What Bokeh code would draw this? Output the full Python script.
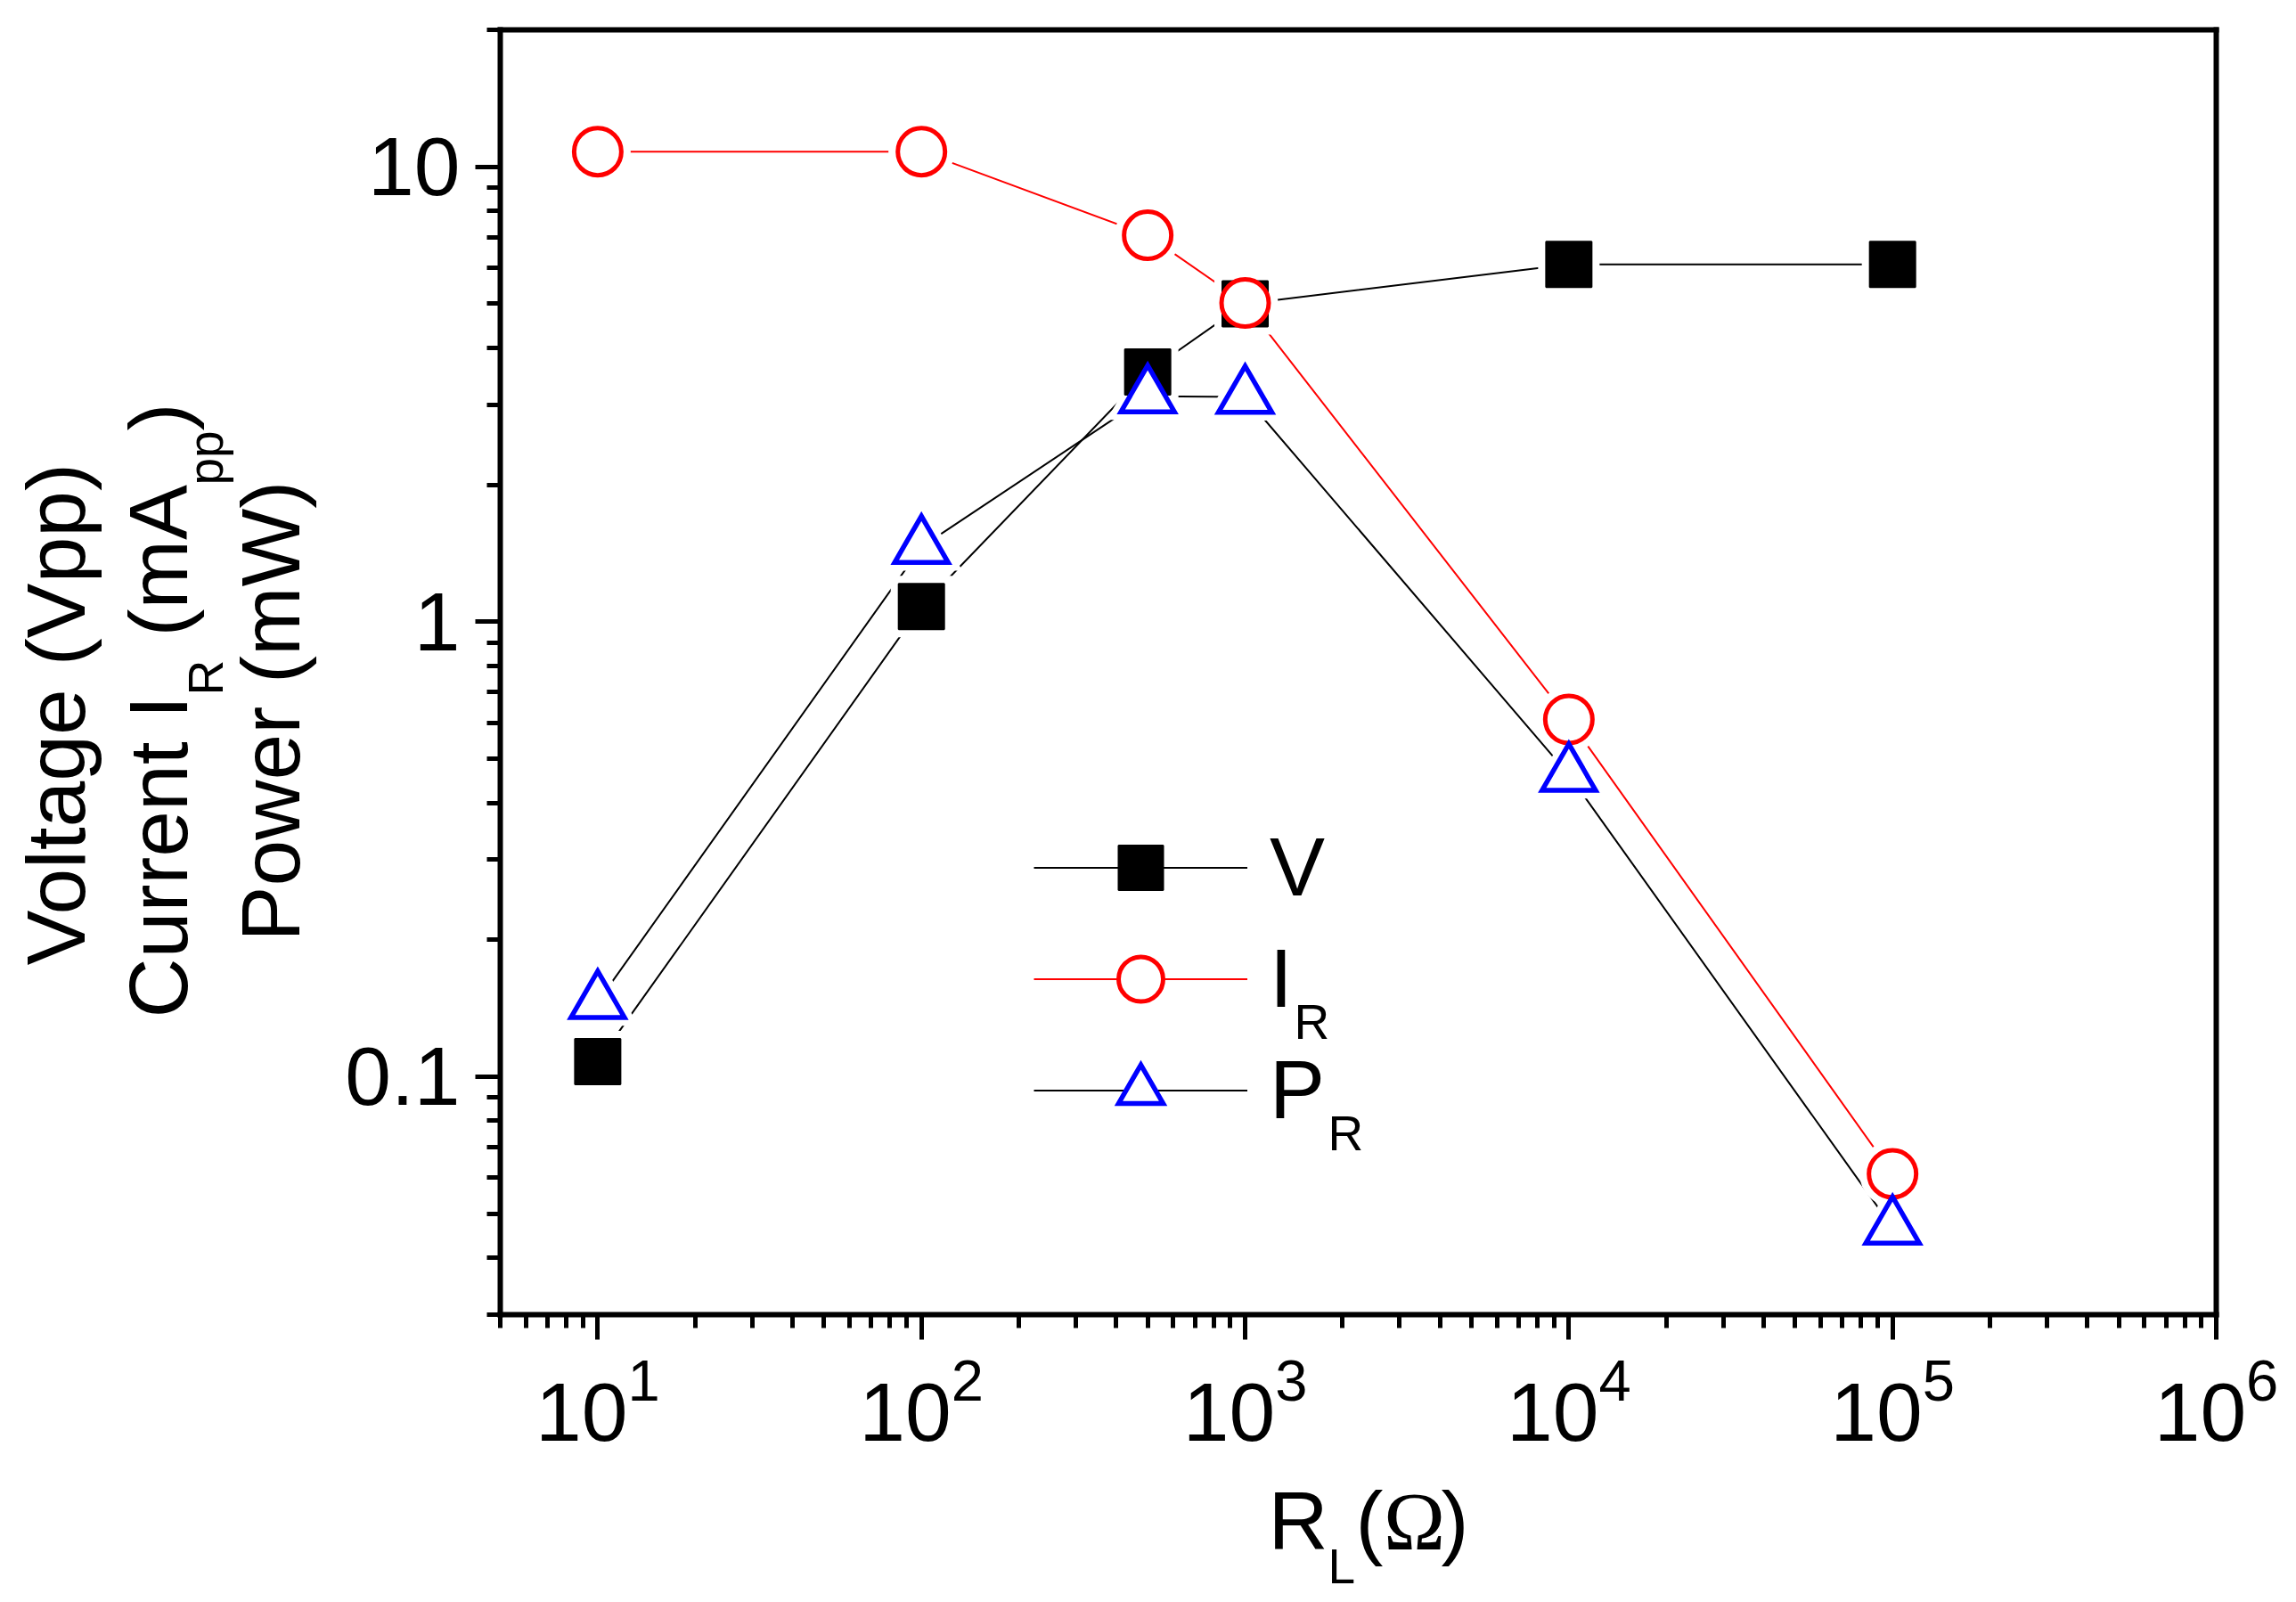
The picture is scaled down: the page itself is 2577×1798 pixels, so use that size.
import math
from bokeh.plotting import figure
from bokeh.models import (Range1d, Label, Legend, LegendItem, CustomJSTickFormatter,
                          LogAxis, FixedTicker)
from bokeh.core.properties import value
from bokeh.embed import file_html
from bokeh.resources import INLINE

# ---- data ----
load_resistance = [10, 100, 500, 1000, 1e4, 1e5]          # R_L (Ohm)
voltage_vpp = [0.108, 1.08, 3.54, 5.0, 6.1, 6.1]           # V
current_ma = [10.8, 10.8, 7.07, 5.02, 0.61, 0.0612]        # I_R
power_mw = [0.146, 1.46, 3.13, 3.12, 0.461, 0.0466]        # P_R
x_limits = (5, 1e6)
y_limits = (0.03, 20)

FONT = "Liberation Sans"

# ---- layout: the frame fills the canvas, the axes sit on a box inside it ----
W, H = 2560, 1790
BOX_L, BOX_R, BOX_T, BOX_B = 561, 2487, 33, 1475
lx0, lx1 = math.log10(x_limits[0]), math.log10(x_limits[1])
ly0, ly1 = math.log10(y_limits[0]), math.log10(y_limits[1])
dec_x = (BOX_R - BOX_L) / (lx1 - lx0)
dec_y = (BOX_B - BOX_T) / (ly1 - ly0)
x_view = (10 ** (lx0 - BOX_L / dec_x), 10 ** (lx1 + (W - BOX_R) / dec_x))
y_view = (10 ** (ly0 - (H - BOX_B) / dec_y), 10 ** (ly1 + BOX_T / dec_y))

p = figure(width=W, height=H, x_axis_type="log", y_axis_type="log",
           x_range=Range1d(*x_view), y_range=Range1d(*y_view),
           output_backend="svg", toolbar_location=None, min_border=0)
p.grid.visible = False
p.outline_line_color = None
p.background_fill_color = "white"
p.border_fill_color = "white"

xa, ya = p.xaxis[0], p.yaxis[0]
xa.fixed_location = y_limits[0]
xa.bounds = x_limits
ya.fixed_location = x_limits[0]
ya.bounds = y_limits

for ax in (xa, ya):
    ax.axis_line_width = 6
    ax.axis_line_color = "black"
    ax.axis_line_cap = "square"
    ax.major_tick_line_width = 5
    ax.minor_tick_line_width = 5
    ax.major_tick_line_color = "black"
    ax.minor_tick_line_color = "black"
    ax.major_tick_in = 0
    ax.major_tick_out = 28
    ax.minor_tick_in = 0
    ax.minor_tick_out = 15
    ax.major_label_text_font = FONT
    ax.major_label_text_font_size = "93px"
    ax.major_label_text_color = "black"
    ax.ticker.num_minor_ticks = 10

ya.formatter = CustomJSTickFormatter(code="return parseFloat(tick.toPrecision(6)).toString();")
ya.major_label_standoff = 17
xa.major_label_standoff = 18

# top and right edges of the box (no ticks)
for loc, side, bnds in ((y_limits[1], "above", x_limits), (x_limits[1], "right", y_limits)):
    edge = LogAxis(fixed_location=loc, bounds=bnds, ticker=FixedTicker(ticks=[], minor_ticks=[]),
                   axis_line_width=6, axis_line_color="black", axis_line_cap="square",
                   major_tick_out=0, major_tick_in=0, minor_tick_out=0, minor_tick_in=0,
                   major_label_text_alpha=0)
    p.add_layout(edge, side)

# ---- series lines ----
vl = p.line(load_resistance, voltage_vpp, line_color="black", line_width=2)
il = p.line(load_resistance, current_ma, line_color="red", line_width=2)
pl = p.line(load_resistance, power_mw, line_color="black", line_width=2)

# white halos give the small gaps between lines and symbols
p.scatter(load_resistance, voltage_vpp, marker="square", size=69, fill_color="white", line_color=None)
p.scatter(load_resistance, current_ma, marker="circle", size=74, fill_color="white", line_color=None)
p.scatter(load_resistance, power_mw, marker="triangle", size=92, fill_color="white", line_color=None)

# ---- symbols ----
vs = p.scatter(load_resistance, voltage_vpp, marker="square", size=51,
               fill_color="black", line_color="black", line_width=2)
cs = p.scatter(load_resistance, current_ma, marker="circle", size=53,
               fill_color="white", line_color="red", line_width=5)
ts = p.scatter(load_resistance, power_mw, marker="triangle", size=60,
               fill_color="white", line_color="blue", line_width=5.5, line_join="miter")

# ---- legend ----
ROW = 125
legend = Legend(items=[LegendItem(label=value("V"), renderers=[vl, vs]),
                       LegendItem(label=value("I"), renderers=[il, cs]),
                       LegendItem(label=value("P"), renderers=[pl, ts])],
                location=(1160, H - 1286),
                glyph_width=240, glyph_height=ROW, label_standoff=25,
                spacing=0, padding=0, margin=0,
                border_line_color=None, background_fill_alpha=0,
                label_text_font=FONT, label_text_font_size="93px",
                label_text_baseline="middle", label_text_color="black")
p.add_layout(legend, "center")

SHIFT = 0.4   # Bokeh draws "alphabetic" labels this many em below the anchor


def put(text, px, py, size, angle=0.0, font=FONT, align="left"):
    d = SHIFT * size
    if angle:
        px -= d
    else:
        py -= d
    p.add_layout(Label(x=px, y=H - py, x_units="screen", y_units="screen",
                       text=text, angle=angle, text_font=font,
                       text_font_size=f"{size}px", text_align=align,
                       text_baseline="alphabetic", text_color="black"))


# legend subscripts
put("R", 1452, 1168, 55)
put("R", 1490, 1293, 55)

# y-axis title (three rotated lines)
up = math.pi / 2
put("Voltage (Vpp)", 100, 1083, 93, angle=up)
put("Current I", 215, 1142, 93, angle=up)
put("R", 252, 780, 55, angle=up)
put("(mA", 215, 714, 93, angle=up)
put("pp", 252, 544, 55, angle=up)
put(")", 215, 483, 93, angle=up)
put("Power (mW)", 341, 1056, 93, angle=up)

# x-axis title  R_L(Ω)
put("R", 1423, 1744, 93)
put("L", 1490, 1779, 55)
put("(", 1521, 1744, 93)
put("Ω", 1587, 1744, 93, font="Liberation Serif", align="center")
put(")", 1617, 1744, 93)

open("out.html", "w").write(file_html(p, INLINE))
